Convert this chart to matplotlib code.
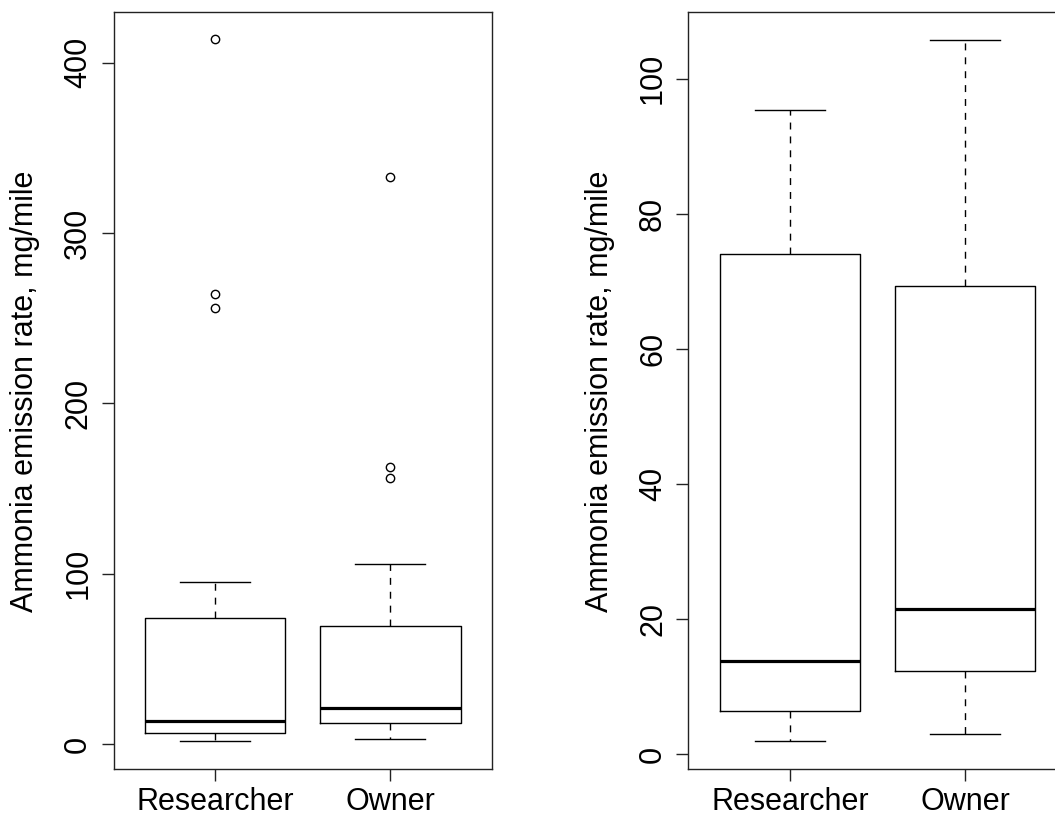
import matplotlib
matplotlib.use("Agg")
import matplotlib.pyplot as plt

plt.rcParams['font.family'] = ['Liberation Sans', 'DejaVu Sans']

# box statistics (mg/mile)
groups = ["Researcher", "Owner"]
whisker_low = [2.0, 3.1]
q1 = [6.5, 12.3]
median = [13.8, 21.5]
q3 = [74.1, 69.3]
whisker_high = [95.4, 105.7]
outliers = [[255.8, 264.0, 413.7], [156.0, 162.7, 333.0]]

ylabel = "Ammonia emission rate, mg/mile"
left_ticks = [0, 100, 200, 300, 400]
right_ticks = [0, 20, 40, 60, 80, 100]


def make_stats(show_fliers):
    stats = []
    for i, name in enumerate(groups):
        stats.append({
            "label": name,
            "whislo": whisker_low[i],
            "q1": q1[i],
            "med": median[i],
            "q3": q3[i],
            "whishi": whisker_high[i],
            "fliers": outliers[i] if show_fliers else [],
        })
    return stats


def draw_panel(ax, show_fliers, ticks):
    ax.bxp(make_stats(show_fliers), positions=[1, 2], widths=0.8, capwidths=0.4,
           showfliers=show_fliers,
           boxprops=dict(color="black", lw=1.0),
           medianprops=dict(color="black", lw=2.3, solid_capstyle="butt"),
           whiskerprops=dict(color="black", lw=1.0, linestyle=(0, (5, 5))),
           capprops=dict(color="black", lw=1.0),
           flierprops=dict(marker="o", markerfacecolor="none", markeredgecolor="black",
                           markersize=6, markeredgewidth=1.0))
    ax.set_xlim(0.42, 2.58)
    ax.set_xticks([1, 2])
    ax.set_xticklabels(groups)
    ax.set_yticks(ticks)
    ax.set_yticklabels([str(t) for t in ticks], rotation=90, va="center")
    ax.tick_params(axis="both", length=8.6, width=1.0, color="#222222", labelsize=22)
    ax.tick_params(axis="y", pad=6)
    ax.tick_params(axis="x", pad=4)
    for s in ax.spines.values():
        s.set_linewidth(1.0)
        s.set_color("#222222")
    ax.set_ylabel(ylabel, fontsize=22, va="center")
    ax.yaxis.set_label_coords(-0.234, 0.5)


fig = plt.figure(figsize=(10.55, 8.16), dpi=100)

ax1 = fig.add_axes([0.1076, 0.0572, 0.3588, 0.9277])
draw_panel(ax1, True, left_ticks)
ax1.set_ylim(-14.7, 429.5)

ax2 = fig.add_axes([0.6524, 0.0572, 0.3588, 0.9277])
draw_panel(ax2, False, right_ticks)
ax2.set_ylim(-2.2, 109.8)

fig.savefig("out.png", dpi=100)
